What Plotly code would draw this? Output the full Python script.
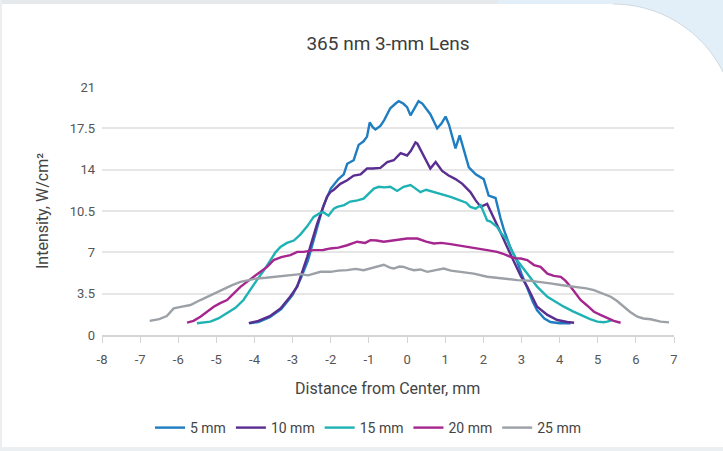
import math
import plotly.graph_objects as go

# ---------------- data ----------------
x_tick_vals = [-8, -7, -6, -5, -4, -3, -2, -1, 0, 1, 2, 3, 4, 5, 6, 7]
x_tick_text = ["-8", "-7", "-6", "-5", "-4", "-3", "-2", "-1", "0", "1", "2", "3", "4", "5", "6", "7"]
y_tick_vals = [0, 3.5, 7, 10.5, 14, 17.5, 21]
y_tick_text = ["0", "3.5", "7", "10.5", "14", "17.5", "21"]

series_names = ["5 mm", "10 mm", "15 mm", "20 mm", "25 mm"]

x_5mm = [-4.13, -3.9, -3.6, -3.3, -3.0, -2.8, -2.6, -2.4, -2.2, -2.0,
         -1.9, -1.8, -1.66, -1.57, -1.4, -1.27, -1.14, -1.05, -0.98, -0.9,
         -0.83, -0.7, -0.6, -0.44, -0.3, -0.22, -0.1, 0.0, 0.09, 0.2,
         0.3, 0.4, 0.5, 0.61, 0.7, 0.79, 0.9, 1.01, 1.1, 1.2,
         1.27, 1.38, 1.5, 1.62, 1.8, 2.01, 2.14, 2.24, 2.32, 2.45,
         2.54, 2.71, 2.89, 3.0, 3.15, 3.3, 3.41, 3.6, 3.76, 4.0, 4.29]
y_5mm = [1.0, 1.1, 1.5, 2.2, 3.4, 4.7, 6.3, 8.6, 10.9, 12.4,
         12.8, 13.2, 13.6, 14.5, 14.8, 16.1, 16.4, 16.8, 18.0, 17.6,
         17.4, 17.7, 18.2, 19.2, 19.6, 19.8, 19.6, 19.3, 18.6, 19.3,
         19.8, 19.6, 19.2, 18.7, 18.1, 17.5, 17.9, 18.5, 17.8, 16.6,
         15.8, 16.9, 15.6, 14.2, 13.6, 13.2, 11.8, 11.7, 11.6, 9.9,
         8.9, 7.4, 6.2, 5.2, 4.0, 2.8, 2.1, 1.4, 1.1, 1.0, 1.0]

x_10mm = [-4.15, -3.9, -3.6, -3.32, -3.1, -2.88, -2.62, -2.36, -2.1, -2.01,
          -1.92, -1.75, -1.57, -1.4, -1.22, -1.05, -0.9, -0.7, -0.52, -0.35,
          -0.17, 0.0, 0.1, 0.22, 0.27, 0.44, 0.61, 0.75, 0.92, 1.09,
          1.27, 1.45, 1.66, 1.8, 1.93, 2.1, 2.28, 2.45, 2.63, 2.8,
          2.98, 3.15, 3.41, 3.68, 3.94, 4.2, 4.38]
y_10mm = [1.0, 1.2, 1.6, 2.25, 3.1, 4.1, 6.6, 9.4, 11.7, 12.1,
          12.3, 12.8, 13.1, 13.5, 13.6, 14.1, 14.1, 14.15, 14.65, 14.8,
          15.4, 15.2, 15.6, 16.3, 16.2, 15.2, 14.1, 14.65, 13.9, 13.5,
          13.2, 12.8, 12.1, 11.4, 10.85, 11.1, 9.9, 8.7, 7.4, 6.2,
          5.0, 4.1, 2.4, 1.7, 1.27, 1.1, 1.04]

x_15mm = [-5.51, -5.3, -5.16, -4.95, -4.72, -4.5, -4.29, -4.1, -3.94, -3.75,
          -3.59, -3.45, -3.32, -3.15, -2.97, -2.8, -2.62, -2.45, -2.3, -2.2,
          -2.06, -1.92, -1.83, -1.65, -1.49, -1.3, -1.14, -0.96, -0.87, -0.74,
          -0.6, -0.44, -0.26, -0.09, 0.09, 0.18, 0.35, 0.5, 0.61, 0.79,
          0.95, 1.14, 1.3, 1.4, 1.55, 1.66, 1.8, 1.93, 2.1, 2.19,
          2.36, 2.45, 2.63, 2.75, 2.89, 3.15, 3.41, 3.68, 3.9, 4.11,
          4.35, 4.55, 4.8, 4.99, 5.15, 5.25, 5.38]
y_15mm = [1.0, 1.05, 1.13, 1.4, 1.83, 2.3, 2.96, 3.9, 4.65, 5.5,
          6.34, 7.0, 7.46, 7.8, 8.0, 8.5, 9.2, 10.0, 10.3, 10.4,
          10.1, 10.7, 10.85, 11.0, 11.3, 11.4, 11.55, 12.1, 12.4, 12.55,
          12.5, 12.55, 12.2, 12.55, 12.7, 12.5, 12.1, 12.3, 12.2, 12.0,
          11.9, 11.7, 11.5, 11.4, 11.2, 10.85, 10.7, 11.0, 9.7, 9.6,
          9.15, 8.7, 8.0, 7.1, 6.3, 5.2, 4.1, 3.24, 2.8, 2.4,
          2.0, 1.7, 1.35, 1.13, 1.08, 1.13, 1.27]

x_20mm = [-5.77, -5.6, -5.42, -5.25, -5.07, -4.9, -4.72, -4.55, -4.37, -4.2,
          -4.02, -3.85, -3.67, -3.5, -3.3, -3.06, -2.88, -2.71, -2.45, -2.2,
          -2.01, -1.8, -1.57, -1.31, -1.1, -0.96, -0.8, -0.61, -0.4, -0.26,
          0.0, 0.27, 0.5, 0.7, 0.9, 1.14, 1.35, 1.58, 1.8, 1.93,
          2.1, 2.36, 2.5, 2.71, 2.85, 2.98, 3.15, 3.33, 3.5, 3.68,
          3.85, 4.03, 4.15, 4.29, 4.42, 4.55, 4.72, 4.9, 5.07, 5.25,
          5.42, 5.6]
y_20mm = [1.04, 1.2, 1.55, 1.95, 2.39, 2.7, 2.96, 3.5, 4.08, 4.5,
          4.93, 5.4, 5.77, 6.34, 6.6, 6.76, 7.04, 7.04, 7.19, 7.2,
          7.33, 7.4, 7.6, 7.9, 7.8, 8.03, 8.0, 7.9, 8.0, 8.03,
          8.17, 8.17, 7.9, 7.75, 7.8, 7.7, 7.6, 7.46, 7.35, 7.33,
          7.19, 7.04, 6.9, 6.62, 6.5, 6.48, 6.34, 5.92, 5.77, 5.2,
          5.0, 4.93, 4.6, 4.08, 3.5, 2.96, 2.5, 1.97, 1.7, 1.41,
          1.2, 1.04]

x_25mm = [-6.75, -6.5, -6.3, -6.12, -5.9, -5.68, -5.42, -5.2, -5.07, -4.8,
          -4.6, -4.37, -4.15, -3.94, -3.7, -3.5, -3.3, -3.06, -2.8, -2.6,
          -2.45, -2.27, -2.01, -1.8, -1.57, -1.35, -1.14, -0.9, -0.7, -0.61,
          -0.45, -0.35, -0.2, -0.09, 0.05, 0.18, 0.35, 0.53, 0.75, 0.96,
          1.15, 1.4, 1.6, 1.75, 2.1, 2.45, 2.89, 3.2, 3.5, 3.8,
          4.03, 4.25, 4.46, 4.7, 4.9, 5.1, 5.34, 5.5, 5.69, 5.85,
          6.04, 6.2, 6.39, 6.65, 6.87]
y_25mm = [1.2, 1.35, 1.6, 2.25, 2.4, 2.54, 2.96, 3.3, 3.52, 3.9,
          4.2, 4.5, 4.65, 4.79, 4.85, 4.93, 5.0, 5.07, 5.15, 5.05,
          5.2, 5.35, 5.35, 5.45, 5.49, 5.6, 5.49, 5.7, 5.92, 5.95,
          5.7, 5.63, 5.8, 5.77, 5.6, 5.49, 5.55, 5.35, 5.5, 5.63,
          5.45, 5.35, 5.3, 5.2, 4.93, 4.79, 4.65, 4.6, 4.5, 4.35,
          4.23, 4.15, 4.08, 3.95, 3.8, 3.55, 3.24, 2.9, 2.4, 1.95,
          1.55, 1.4, 1.33, 1.13, 1.07]

series_x = [x_5mm, x_10mm, x_15mm, x_20mm, x_25mm]
series_y = [y_5mm, y_10mm, y_15mm, y_20mm, y_25mm]
series_colors = ["#1f7dc1", "#5a2d90", "#1fb2b4", "#a6268f", "#9ba1a6"]

# ---------------- layout geometry ----------------
W, H = 723, 451
ML, MR, MT, MB = 102, 49, 87, 116
PW, PH = W - ML - MR, H - MT - MB


def px(xp, yp):
    """pixel position -> paper coordinates"""
    return (xp - ML) / PW, (H - MB - yp) / PH


fig = go.Figure()
for name, xs, ys, col in zip(series_names, series_x, series_y, series_colors):
    fig.add_trace(go.Scatter(x=xs, y=ys, name=name, mode="lines",
                             line=dict(color=col, width=2.4)))

# background decoration: blue corner + gray border strip
arc_pts = []
cx, cy, rad = 613, 127, 123
a0 = math.atan2(72 - cy, 723 - cx)
a1 = -math.pi / 2
n = 30
for i in range(n + 1):
    a = a0 + (a1 - a0) * i / n
    arc_pts.append((cx + rad * math.cos(a), cy + rad * math.sin(a)))

poly = [(498, -2), (725, -2), (725, 72)] + arc_pts + [(498, 4)]
path = "M " + " L ".join("%.4f,%.4f" % px(a, b) for a, b in poly) + " Z"
arc_path = "M " + " L ".join("%.4f,%.4f" % px(a, b) for a, b in arc_pts)

shapes = [
    dict(type="path", path=path, xref="paper", yref="paper",
         fillcolor="#e3eff8", line=dict(width=0), layer="below"),
    dict(type="path", path=arc_path, xref="paper", yref="paper",
         line=dict(color="#cfd8de", width=1), layer="below"),
]
x0, y0 = px(-2, -2)
x1, y1 = px(498, 4)
shapes.append(dict(type="rect", xref="paper", yref="paper", x0=x0, y0=y0, x1=x1, y1=y1,
                   fillcolor="#e6e9eb", line=dict(width=0), layer="below"))
x0, y0 = px(-2, 447)
x1, y1 = px(725, 453)
shapes.append(dict(type="rect", xref="paper", yref="paper", x0=x0, y0=y0, x1=x1, y1=y1,
                   fillcolor="#eceff1", line=dict(width=0), layer="below"))
x0, y0 = px(-2, 0)
x1, y1 = px(2, 453)
shapes.append(dict(type="rect", xref="paper", yref="paper", x0=x0, y0=y0, x1=x1, y1=y1,
                   fillcolor="#eceff1", line=dict(width=0), layer="below"))

FONT = "Roboto"
ytx, yty = px(42, 211)
xtx, xty = px(387, 388)
lgx, lgy = px(368, 428)

fig.update_layout(
    width=W, height=H,
    margin=dict(l=ML, r=MR, t=MT, b=MB, autoexpand=False),
    paper_bgcolor="white", plot_bgcolor="white",
    font=dict(family=FONT, color="#444444"),
    title=dict(text="365 nm 3-mm Lens", x=0.5, xref="paper", xanchor="center",
               y=1 - 43 / H, yref="container", yanchor="middle",
               font=dict(family=FONT, size=19, color="#3d3d3d")),
    shapes=shapes,
    showlegend=True,
    legend=dict(orientation="h", x=lgx, y=lgy, xanchor="center", yanchor="middle",
                font=dict(family=FONT, size=14, color="#444444"),
                bgcolor="rgba(0,0,0,0)", itemwidth=30, tracegroupgap=0),
    annotations=[
        dict(text="Intensity, W/cm²", x=ytx, y=yty, xref="paper", yref="paper",
             textangle=-90, showarrow=False, xanchor="center", yanchor="middle",
             font=dict(family=FONT, size=16, color="#444444")),
        dict(text="Distance from Center, mm", x=xtx, y=xty, xref="paper", yref="paper",
             showarrow=False, xanchor="center", yanchor="middle",
             font=dict(family=FONT, size=16, color="#444444")),
    ],
    xaxis=dict(range=[-8, 7], tickmode="array", tickvals=x_tick_vals, ticktext=x_tick_text,
               showgrid=False, zeroline=False, showline=True,
               linecolor="#d5d5d5", linewidth=1.5,
               ticks="outside", ticklen=6, tickcolor="#d5d5d5", tickwidth=1.2,
               ticklabelstandoff=6,
               tickfont=dict(family=FONT, size=13, color="#555555")),
    yaxis=dict(range=[0, 21], tickmode="array", tickvals=y_tick_vals, ticktext=y_tick_text,
               showgrid=True, gridcolor="#e6e6e6", gridwidth=1.5, zeroline=False,
               showline=False, ticks="", ticklabelstandoff=6,
               tickfont=dict(family=FONT, size=13, color="#555555")),
)

fig.write_html("out.html", config={"displayModeBar": False},
               post_script="document.body.style.margin='0';document.body.style.padding='0';")
